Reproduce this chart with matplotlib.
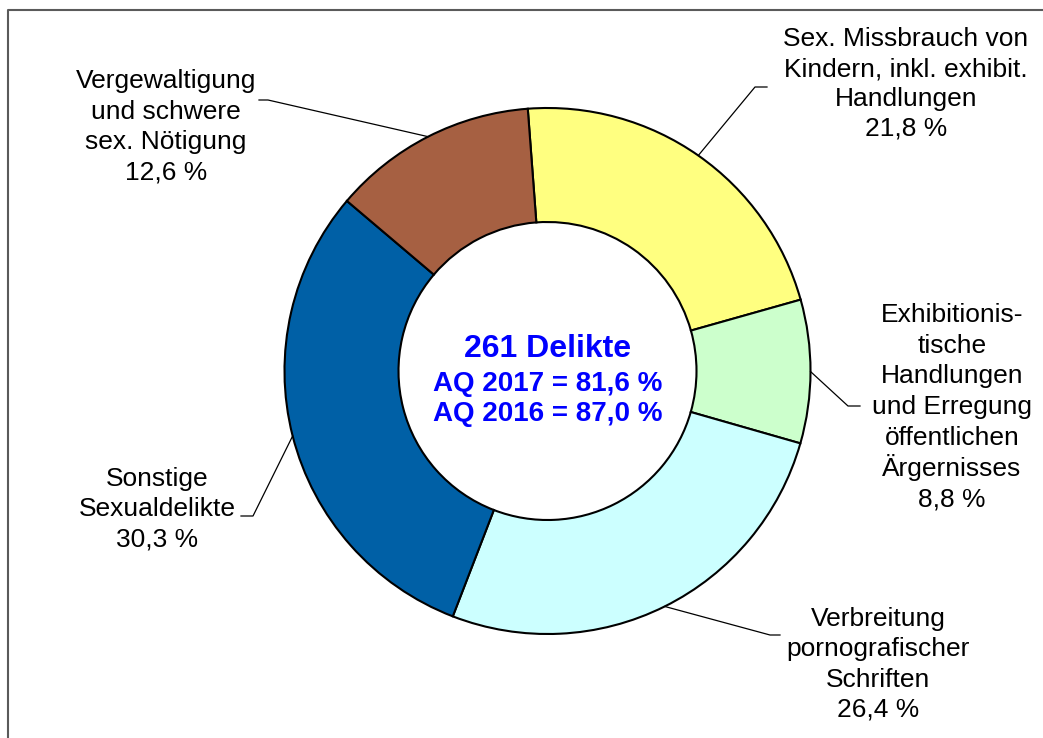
import numpy as np
import matplotlib
matplotlib.use("Agg")
import matplotlib.pyplot as plt
from matplotlib.lines import Line2D

plt.rcParams['font.family'] = ['Liberation Sans', 'DejaVu Sans']

# ---- data ----
categories = [
    ["Sex. Missbrauch von", "Kindern, inkl. exhibit.", "Handlungen"],
    ["Exhibitionis-", "tische", "Handlungen", "und Erregung", "öffentlichen", "Ärgernisses"],
    ["Verbreitung", "pornografischer", "Schriften"],
    ["Sonstige", "Sexualdelikte"],
    ["Vergewaltigung", "und schwere", "sex. Nötigung"],
]
values = [21.8, 8.8, 26.4, 30.3, 12.6]
value_labels = ["21,8 %", "8,8 %", "26,4 %", "30,3 %", "12,6 %"]
colors = ["#FFFF80", "#CCFFCC", "#CCFFFF", "#0060A6", "#A66042"]
center_title = "261 Delikte"
center_lines = ["AQ 2017 = 81,6 %", "AQ 2016 = 87,0 %"]

W, H = 1043, 738
def Y(y):
    return H - y

fig = plt.figure(figsize=(W / 100, H / 100), dpi=100)
ax = fig.add_axes([0, 0, 1, 1])

cx, cy, R, ring = 547.5, Y(371), 263, 114
wedges, _ = ax.pie(values, colors=colors, startangle=94.3, counterclock=False,
                   radius=R, center=(cx, cy),
                   wedgeprops=dict(width=ring, edgecolor='black', linewidth=1.5))
ax.set_xlim(0, W)
ax.set_ylim(0, H)
ax.set_aspect('equal')
ax.axis('off')

# frame (top and left visible)
ax.add_line(Line2D([8, 8, W + 5], [Y(H + 5), Y(10), Y(10)], color='#5a5a5a', lw=1.5))

# label layout: (text center x, first baseline y, line step, elbow x, elbow y, end x)
layout = [
    (906, 46.5, 29.6, 755, 87, 767),
    (952, 322, 30.75, 848, 406, 860),
    (878, 626, 30.3, 770, 635, 780),
    (157, 486, 30.0, 253, 516, 241),
    (166, 88.3, 30.3, 268, 100, 259),
]

for w, cat, vl, (tx, by, step, ex, ey, endx) in zip(wedges, categories, value_labels, layout):
    th = np.deg2rad((w.theta1 + w.theta2) / 2)
    sx, sy = cx + R * np.cos(th), cy + R * np.sin(th)
    ax.add_line(Line2D([sx, ex, endx], [sy, Y(ey), Y(ey)], color='black', lw=0.9))
    for i, line in enumerate(cat + [vl]):
        ax.text(tx, Y(by + i * step), line, ha='center', va='baseline',
                fontsize=19, color='black')

ax.text(cx, Y(357), center_title, ha='center', va='baseline', fontsize=23,
        fontweight='bold', color='#0000FF')
ax.text(cx, Y(390.7), center_lines[0], ha='center', va='baseline', fontsize=20,
        fontweight='bold', color='#0000FF')
ax.text(cx, Y(420.7), center_lines[1], ha='center', va='baseline', fontsize=20,
        fontweight='bold', color='#0000FF')

fig.savefig("out.png", dpi=100)
